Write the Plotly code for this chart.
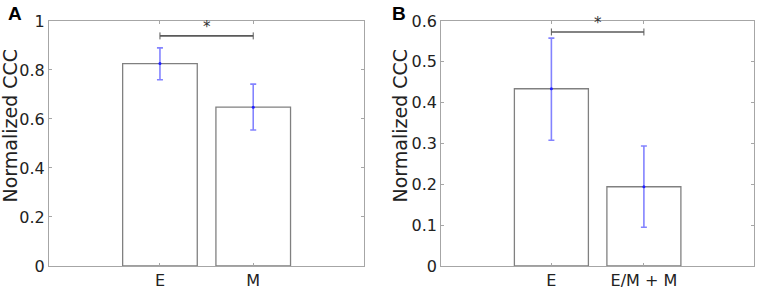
import plotly.graph_objects as go

# ---- data ----
cats_A = ["E", "M"]
vals_A = [0.826, 0.648]
err_hi_A = [0.89, 0.742]
err_lo_A = [0.76, 0.555]
sig_A = 0.939

cats_B = ["E", "E/M + M"]
vals_B = [0.434, 0.194]
err_hi_B = [0.558, 0.294]
err_lo_B = [0.308, 0.095]
sig_B = 0.573

yticks_A = [0, 0.2, 0.4, 0.6, 0.8, 1]
yticklabels_A = ["0", "0.2", "0.4", "0.6", "0.8", "1"]
yticks_B = [0, 0.1, 0.2, 0.3, 0.4, 0.5, 0.6]
yticklabels_B = ["0", "0.1", "0.2", "0.3", "0.4", "0.5", "0.6"]
ylabel = "Normalized CCC"

FONT = "DejaVu Sans"
FRAME = "#a6a6a6"
BAR_LINE = "#808080"
ERR = "rgba(90,90,255,0.75)"
TXT = "#222222"

fig = go.Figure()

def add_panel(xa, ya, vals, hi, lo, sig):
    xs = [1, 2]
    fig.add_trace(go.Bar(
        x=xs, y=vals, width=0.8, marker=dict(color="white", line=dict(color=BAR_LINE, width=1.3)),
        error_y=dict(type="data", symmetric=False,
                     array=[h - v for h, v in zip(hi, vals)],
                     arrayminus=[v - l for l, v in zip(lo, vals)],
                     color=ERR, thickness=1.6, width=3),
        xaxis=xa, yaxis=ya, showlegend=False, hoverinfo="skip"))
    fig.add_trace(go.Scatter(
        x=xs, y=vals, mode="markers", marker=dict(color="#2020ff", size=3),
        xaxis=xa, yaxis=ya, showlegend=False, hoverinfo="skip"))
    fig.add_trace(go.Scatter(
        x=xs, y=[sig, sig], mode="lines+markers",
        line=dict(color="#5a5a5a", width=1.6),
        marker=dict(symbol="line-ns", size=5, line=dict(color="#5a5a5a", width=1)),
        xaxis=xa, yaxis=ya, showlegend=False, hoverinfo="skip"))

add_panel("x", "y", vals_A, err_hi_A, err_lo_A, sig_A)
add_panel("x2", "y2", vals_B, err_hi_B, err_lo_B, sig_B)

xr = [1.5 - 1.69, 1.5 + 1.69]
axis_common = dict(showline=True, linecolor=FRAME, linewidth=1.2, mirror="ticks",
                   ticks="inside", ticklen=3, tickcolor=FRAME, showgrid=False, zeroline=False,
                   automargin=False,
                   tickfont=dict(family=FONT, size=16, color=TXT))
title_font = dict(family=FONT, size=19, color=TXT)

fig.update_layout(
    width=758, height=291, margin=dict(l=0, r=0, t=0, b=0),
    plot_bgcolor="white", paper_bgcolor="white",
    xaxis=dict(domain=[0.0646, 0.4805], range=xr, tickvals=[1, 2], ticktext=cats_A, **axis_common),
    yaxis=dict(domain=[0.0859, 0.928], range=[0, 1], tickvals=yticks_A, ticktext=yticklabels_A,
               **axis_common),
    xaxis2=dict(domain=[0.5822, 0.9947], range=xr, tickvals=[1, 2], ticktext=cats_B, anchor="y2", **axis_common),
    yaxis2=dict(domain=[0.0859, 0.928], range=[0, 0.6], tickvals=yticks_B, ticktext=yticklabels_B, anchor="x2",
                **axis_common),
    annotations=[
        dict(text=ylabel, x=9.5 / 758, y=1 - 126 / 291, xref="paper", yref="paper", textangle=-90,
             xanchor="center", yanchor="middle", showarrow=False, font=title_font),
        dict(text=ylabel, x=399.5 / 758, y=1 - 126 / 291, xref="paper", yref="paper", textangle=-90,
             xanchor="center", yanchor="middle", showarrow=False, font=title_font),
        dict(text="<b>A</b>", x=0.008, y=0.995, xref="paper", yref="paper", xanchor="left", yanchor="top",
             showarrow=False, font=dict(family="Liberation Sans", size=19, color="black")),
        dict(text="<b>B</b>", x=0.5145, y=0.995, xref="paper", yref="paper", xanchor="left", yanchor="top",
             showarrow=False, font=dict(family="Liberation Sans", size=19, color="black")),
        dict(text="*", x=1.5, y=sig_A, xref="x", yref="y", yanchor="bottom", showarrow=False, yshift=-2,
             font=dict(family=FONT, size=15, color="#333")),
        dict(text="*", x=1.5, y=sig_B, xref="x2", yref="y2", yanchor="bottom", showarrow=False, yshift=-2,
             font=dict(family=FONT, size=15, color="#333")),
    ],
)

fig.write_html("out.html", config={"displayModeBar": False},
               post_script="document.body.style.margin='0';document.body.style.overflow='hidden';")
